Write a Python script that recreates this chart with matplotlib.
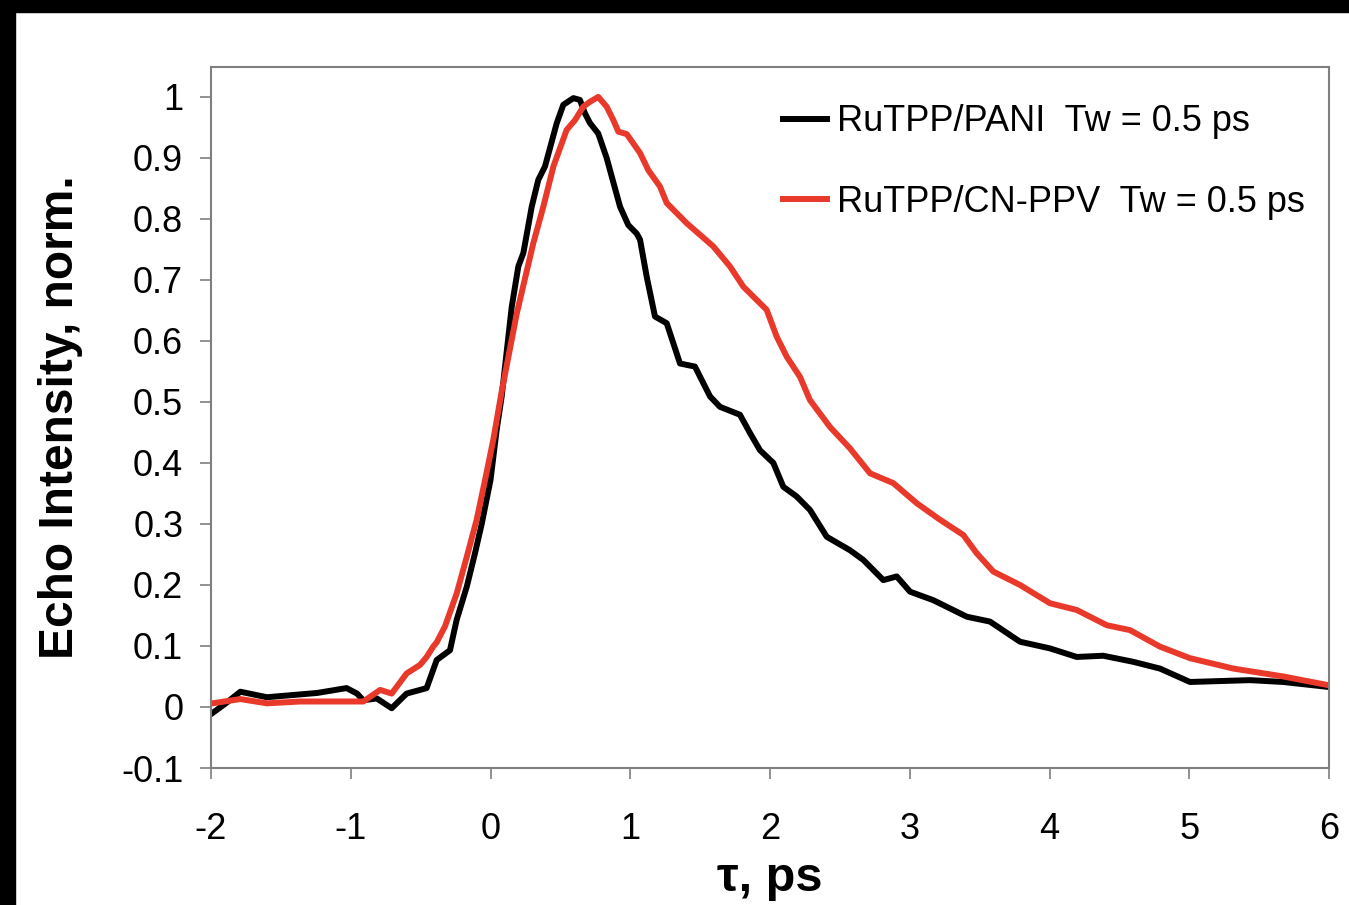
import numpy as np
import matplotlib
matplotlib.use("Agg")
import matplotlib.pyplot as plt
from matplotlib.patches import Rectangle

plt.rcParams["font.family"] = ["Liberation Sans", "DejaVu Sans"]

# RuTPP/PANI, Tw = 0.5 ps (black)
pani_t = [-1.99, -1.90, -1.79, -1.60, -1.24, -1.03, -0.955, -0.91, -0.814, -0.707,
          -0.60, -0.504, -0.457, -0.41, -0.385, -0.29, -0.242, -0.17, -0.111, -0.063,
          0.0, 0.044, 0.08, 0.104, 0.152, 0.199, 0.235, 0.295, 0.342, 0.39,
          0.474, 0.521, 0.593, 0.64, 0.676, 0.712, 0.771, 0.831, 0.879, 0.927,
          0.986, 1.046, 1.07, 1.118, 1.177, 1.261, 1.356, 1.463, 1.571, 1.642,
          1.785, 1.857, 1.928, 2.024, 2.095, 2.191, 2.286, 2.406, 2.572, 2.668,
          2.811, 2.907, 3.002, 3.169, 3.408, 3.574, 3.789, 4.004, 4.195, 4.385,
          4.60, 4.79, 5.005, 5.435, 5.673, 5.99]
pani_y = [-0.010, 0.005, 0.025, 0.016, 0.023, 0.031, 0.022, 0.011, 0.014, -0.002,
          0.022, 0.028, 0.031, 0.061, 0.077, 0.093, 0.143, 0.197, 0.252, 0.300,
          0.372, 0.454, 0.509, 0.558, 0.656, 0.722, 0.744, 0.820, 0.864, 0.886,
          0.957, 0.987, 0.998, 0.995, 0.973, 0.957, 0.940, 0.900, 0.860, 0.820,
          0.790, 0.776, 0.766, 0.705, 0.640, 0.629, 0.563, 0.558, 0.509, 0.492,
          0.479, 0.449, 0.421, 0.400, 0.361, 0.345, 0.323, 0.279, 0.257, 0.241,
          0.208, 0.214, 0.189, 0.175, 0.148, 0.140, 0.107, 0.096, 0.082, 0.084,
          0.074, 0.063, 0.041, 0.044, 0.041, 0.033]

# RuTPP/CN-PPV, Tw = 0.5 ps (red)
ppv_t = [-1.99, -1.79, -1.60, -1.36, -1.077, -0.91, -0.79, -0.707, -0.60, -0.504,
         -0.457, -0.41, -0.385, -0.326, -0.242, -0.17, -0.099, -0.039, 0.02, 0.08,
         0.188, 0.306, 0.378, 0.45, 0.545, 0.605, 0.664, 0.712, 0.771, 0.831,
         0.879, 0.915, 0.975, 1.07, 1.129, 1.213, 1.261, 1.404, 1.594, 1.714,
         1.809, 1.976, 2.048, 2.12, 2.215, 2.286, 2.429, 2.572, 2.716, 2.882,
         3.05, 3.216, 3.383, 3.479, 3.598, 3.789, 4.004, 4.195, 4.41, 4.576,
         4.79, 5.005, 5.315, 5.673, 5.99]
ppv_y = [0.006, 0.013, 0.006, 0.009, 0.009, 0.009, 0.028, 0.022, 0.055, 0.069,
         0.082, 0.099, 0.106, 0.132, 0.186, 0.246, 0.307, 0.372, 0.438, 0.517,
         0.645, 0.760, 0.820, 0.886, 0.946, 0.962, 0.984, 0.992, 1.000, 0.984,
         0.962, 0.943, 0.939, 0.908, 0.880, 0.853, 0.826, 0.793, 0.755, 0.722,
         0.689, 0.651, 0.607, 0.574, 0.541, 0.503, 0.459, 0.424, 0.383, 0.367,
         0.334, 0.307, 0.282, 0.252, 0.222, 0.200, 0.170, 0.159, 0.134, 0.126,
         0.099, 0.080, 0.063, 0.050, 0.036]

labels = ["RuTPP/PANI  Tw = 0.5 ps", "RuTPP/CN-PPV  Tw = 0.5 ps"]
x_ticks = [-2, -1, 0, 1, 2, 3, 4, 5, 6]
y_ticks = [-0.1, 0, 0.1, 0.2, 0.3, 0.4, 0.5, 0.6, 0.7, 0.8, 0.9, 1]
y_tick_labels = ["-0.1", "0", "0.1", "0.2", "0.3", "0.4", "0.5", "0.6", "0.7", "0.8", "0.9", "1"]

SPINE = "#7f7f7f"
RED = "#e8392b"

fig = plt.figure(figsize=(13.49, 9.05), dpi=100)
fig.patch.set_facecolor("white")

# black frame strips along the top and left edges of the screenshot
fig.patches.append(Rectangle((0, 1 - 12 / 905), 1, 12 / 905, transform=fig.transFigure,
                             color="black", zorder=0))
fig.patches.append(Rectangle((0, 0), 15 / 1349, 1, transform=fig.transFigure,
                             color="black", zorder=0))

ax = fig.add_axes([211 / 1349, 137 / 905, 1118 / 1349, 701 / 905])

ax.plot(pani_t, pani_y, color="black", lw=4.3, label=labels[0], solid_joinstyle="round")
ax.plot(ppv_t, ppv_y, color=RED, lw=4.3, label=labels[1], solid_joinstyle="round")

ax.set_xlim(-2, 6)
ax.set_ylim(-0.1, 1.049)
ax.set_xticks(x_ticks)
ax.set_xticklabels([str(t) for t in x_ticks])
ax.set_yticks(y_ticks)
ax.set_yticklabels(y_tick_labels)

for spine in ax.spines.values():
    spine.set_color(SPINE)
    spine.set_linewidth(1.5)

ax.tick_params(axis="y", direction="out", length=8, width=1.2, color=SPINE,
               labelsize=26, pad=12)
ax.tick_params(axis="x", direction="out", length=8, width=1.2, color=SPINE,
               labelsize=26, pad=24)

ax.set_ylabel("Echo Intensity, norm.", fontsize=34.5, fontweight="bold", labelpad=27)
ax.set_xlabel("τ, ps", fontsize=35, fontweight="bold", labelpad=6)

ax.legend(loc="upper left", bbox_to_anchor=(0.5116, 0.947), frameon=False,
          fontsize=26, handlelength=1.22, handletextpad=0.28, labelspacing=1.26,
          borderpad=0, borderaxespad=0)

fig.savefig("out.png", dpi=100)
